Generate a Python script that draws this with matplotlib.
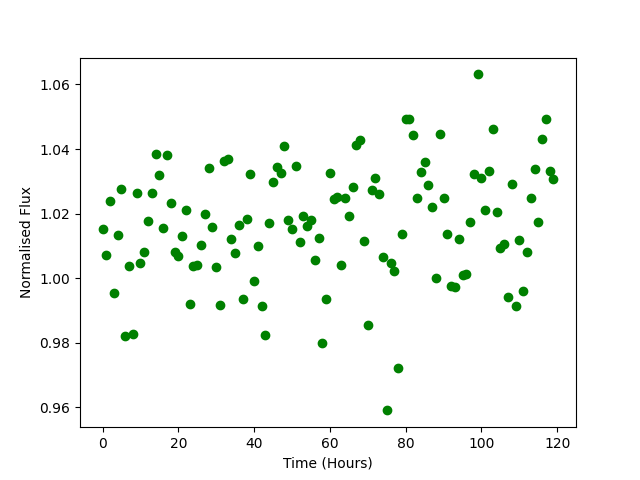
import matplotlib
matplotlib.use("Agg")
import matplotlib.pyplot as plt
import numpy as np

hours = list(range(120))
flux = [
    1.0152, 1.0071, 1.0240, 0.9955, 1.0134, 1.0277, 0.9822, 1.0038, 0.9828, 1.0265,
    1.0048, 1.0081, 1.0177, 1.0265, 1.0385, 1.0319, 1.0155, 1.0381, 1.0233, 1.0081,
    1.0068, 1.0130, 1.0210, 0.9920, 1.0038, 1.0040, 1.0102, 1.0200, 1.0340, 1.0158,
    1.0035, 0.9916, 1.0362, 1.0368, 1.0120, 1.0077, 1.0164, 0.9935, 1.0183, 1.0322,
    0.9990, 1.0099, 0.9913, 0.9823, 1.0170, 1.0297, 1.0344, 1.0325, 1.0408, 1.0180,
    1.0151, 1.0347, 1.0111, 1.0192, 1.0161, 1.0180, 1.0058, 1.0124, 0.9801, 0.9935,
    1.0325, 1.0244, 1.0250, 1.0040, 1.0247, 1.0192, 1.0282, 1.0414, 1.0427, 1.0114,
    0.9854, 1.0272, 1.0310, 1.0260, 1.0065, 0.9591, 1.0046, 1.0021, 0.9721, 1.0136,
    1.0492, 1.0492, 1.0443, 1.0247, 1.0328, 1.0359, 1.0288, 1.0222, 1.0000, 1.0446,
    1.0247, 1.0136, 0.9975, 0.9972, 1.0120, 1.0009, 1.0012, 1.0173, 1.0322, 1.0631,
    1.0310, 1.0210, 1.0331, 1.0461, 1.0204, 1.0095, 1.0105, 0.9941, 1.0291, 0.9913,
    1.0117, 0.9962, 1.0081, 1.0247, 1.0337, 1.0173, 1.0430, 1.0492, 1.0331, 1.0306,
]

fig, ax = plt.subplots(figsize=(6.4, 4.8), dpi=100)
ax.scatter(hours, flux, color="green")
ax.set_xlabel("Time (Hours)")
ax.set_ylabel("Normalised Flux")
fig.savefig("out.png")
